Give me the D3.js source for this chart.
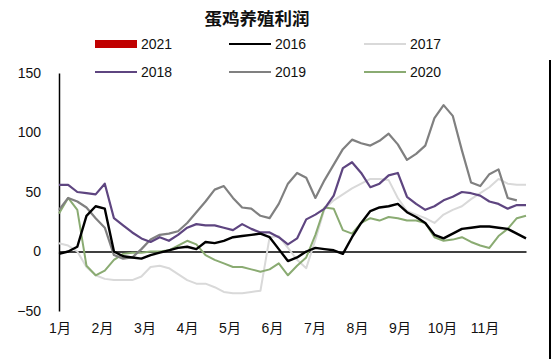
<!DOCTYPE html>
<html><head><meta charset="utf-8">
<script src="https://cdn.jsdelivr.net/npm/d3@7/dist/d3.min.js"></script>
<style>
body{margin:0;background:#fff;}
text{font-family:"Liberation Sans","Noto Sans CJK SC",sans-serif;}
</style></head>
<body><svg id="c" width="552" height="359"></svg>
<script>
const title = "蛋鸡养殖利润";
const months = ["1月","2月","3月","4月","5月","6月","7月","8月","9月","10月","11月"];
const yTicks = [-50, 0, 50, 100, 150];
const seriesNames = ["2021","2016","2017","2018","2019","2020"];
const s2021 = [];
const s2016 = [-2,0,4,30,38,36,0,-4,-5,-6,-3,-1,1,3,4,2,8,7,9,12,13,14,15,12,2,-8,-5,0,3,2,1,-2,12,24,34,37,38,40,33,29,24,14,11,15,19,20,21,21,20,19,15,11];
const s2017 = [7,5,0,-13,-20,-23,-24,-24,-24,-21,-13,-12,-14,-19,-24,-27,-27,-30,-34,-35,-35,-34,-33,12,13,3,-7,-14,10,36,43,48,53,57,61,61,60,45,34,31,28,24,31,35,38,44,49,54,61,57,56,56];
const s2018 = [56,56,50,49,48,57,28,22,16,11,8,12,9,14,20,23,22,22,20,18,23,19,16,16,12,6,11,27,31,36,47,70,75,66,54,57,64,66,46,40,35,38,43,46,50,49,47,42,40,36,39,39];
const s2019 = [35,45,42,37,28,20,-3,-6,-5,2,10,14,15,17,24,33,42,52,55,45,37,36,30,28,40,57,66,62,45,60,73,86,94,91,89,93,99,90,77,82,89,112,123,114,85,58,55,65,69,45,43];
const s2020 = [32,45,35,-12,-20,-16,-7,-2,-1,-1,0,0,1,5,9,6,-3,-7,-10,-13,-13,-15,-17,-15,-10,-20,-12,-5,14,37,36,18,15,24,28,26,29,28,26,26,24,12,9,10,12,8,5,3,13,19,28,30];
const seriesData = [s2021, s2016, s2017, s2018, s2019, s2020];
const colors = ["#c00000","#000000","#d9d9d9","#5e4580","#808080","#8aab72"];
const widths = [6, 2.4, 2, 2.2, 2.2, 2];

const svg = d3.select("#c");
const x = d3.scaleLinear().domain([0, 51]).range([59, 526]);
const y = d3.scaleLinear().domain([-50, 150]).range([311, 73]);
const xm = d3.scalePoint().domain(months).range([60, 485]);

svg.append("text").attr("x", 257).attr("y", 25).attr("text-anchor","middle")
  .attr("font-size", 17.5).attr("font-weight","bold").attr("fill","#111")
  .style("font-family","'Noto Sans CJK SC',sans-serif").text(title);

// legend
const legPos = [[95,44],[229,44],[364,44],[95,72],[229,72],[364,72]];
seriesNames.forEach((n,i)=>{
  const [lx,ly] = legPos[i];
  const g = svg.append("g");
  if(i===0){
    g.append("rect").attr("x",lx).attr("y",ly-4).attr("width",42).attr("height",8).attr("fill",colors[i]);
  } else {
    g.append("line").attr("x1",lx).attr("x2",lx+42).attr("y1",ly).attr("y2",ly)
     .attr("stroke",colors[i]).attr("stroke-width",2);
  }
  g.append("text").attr("x",lx+46).attr("y",ly+5).attr("font-size",14).attr("fill","#111").text(n);
});

// y axis
const yAxis = d3.axisLeft(y).tickValues(yTicks).tickSize(0).tickPadding(18);
const ga = svg.append("g").attr("transform","translate(59,0)").call(yAxis);
ga.select(".domain").attr("stroke","#000").attr("stroke-width",1.5);
ga.selectAll("text").attr("font-size",14).attr("fill","#111")
  .style("font-family","'Liberation Sans',sans-serif").text(d=> d<0 ? "−"+Math.abs(d) : d);

// x axis at zero
const xAxis = d3.axisBottom(x).tickValues([]).tickSize(0);
const gx = svg.append("g").attr("transform",`translate(0,${y(0)})`).call(xAxis);
gx.select(".domain").attr("stroke","#000").attr("stroke-width",1.5);

// month labels
svg.append("g").selectAll("text").data(months).join("text")
  .attr("x", d=>xm(d)).attr("y", 333).attr("text-anchor","middle")
  .attr("font-size",14).attr("fill","#111").text(d=>d);

// lines (draw order: lighter first)
const line = d3.line().x((d,i)=>x(i)).y(d=>y(d));
const order = [2,5,4,3,1,0];
order.forEach(i=>{
  if(!seriesData[i].length) return;
  svg.append("path").datum(seriesData[i]).attr("d",line)
    .attr("fill","none").attr("stroke",colors[i]).attr("stroke-width",widths[i])
    .attr("stroke-linejoin","round");
});

// right edge axis fragment
svg.append("line").attr("x1",550).attr("x2",550).attr("y1",60).attr("y2",359)
  .attr("stroke","#000").attr("stroke-width",2);
</script></body></html>
